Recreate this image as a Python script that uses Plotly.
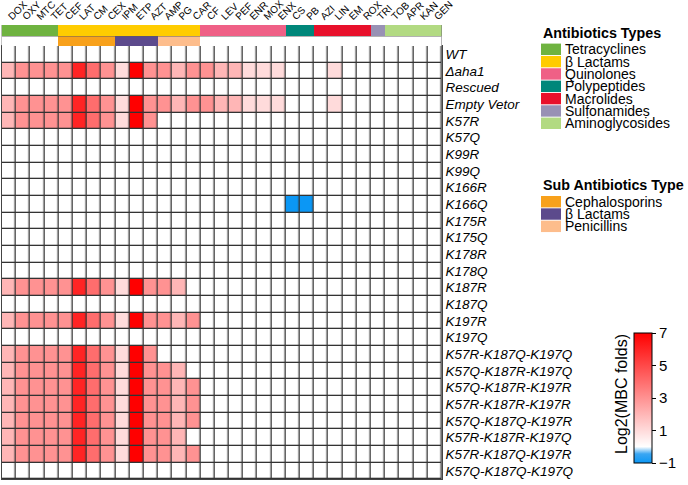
import plotly.graph_objects as go

W, H = 688, 485

antibiotics = ["DOX", "OXY", "MTC", "TET", "CEF", "LAT", "CM", "CEX", "IPM", "ETP",
               "AZT", "AMP", "PG", "CAR", "CF", "LEV", "PEF", "ENR", "MOX", "ENX",
               "CS", "PB", "AZI", "LIN", "EM", "ROX", "TRI", "TOB", "APR", "KAN", "GEN"]

antibiotic_type = ["Tetracyclines"] * 4 + ["β Lactams"] * 10 + ["Quinolones"] * 6 + \
                  ["Polypeptides"] * 2 + ["Macrolides"] * 4 + ["Sulfonamides"] * 1 + \
                  ["Aminoglycosides"] * 4

sub_type = [""] * 4 + ["Cephalosporins"] * 4 + ["β Lactams"] * 3 + ["Penicillins"] * 3 + [""] * 17

type_names = ["Tetracyclines", "β Lactams", "Quinolones", "Polypeptides",
              "Macrolides", "Sulfonamides", "Aminoglycosides"]
type_colors = ["#6FB340", "#FFCC00", "#EF6086", "#00877A", "#E8102B", "#9891B4", "#B2DA82"]

sub_names = ["Cephalosporins", "β Lactams", "Penicillins"]
sub_colors = ["#F8A11B", "#5C4A8C", "#FDBD8C"]

strains = ["WT", "Δaha1", "Rescued", "Empty Vetor", "K57R", "K57Q", "K99R", "K99Q",
           "K166R", "K166Q", "K175R", "K175Q", "K178R", "K178Q", "K187R", "K187Q",
           "K197R", "K197Q", "K57R-K187Q-K197Q", "K57Q-K187R-K197Q", "K57Q-K187R-K197R",
           "K57R-K187R-K197R", "K57Q-K187Q-K197R", "K57R-K187R-K197Q", "K57R-K187Q-K197R",
           "K57Q-K187Q-K197Q"]

#            Tetra        beta lactams                  Quinolones          Poly  Macrolides  Su Aminogly
mbc_log2 = [
    [0, 0, 0, 0, 0, 0, 0, 0, 0, 0, 0, 0, 0, 0, 0, 0, 0, 0, 0, 0, 0, 0, 0, 0, 0, 0, 0, 0, 0, 0, 0],   # WT
    [2, 3, 3, 3, 3, 6, 4, 3, 1, 7, 3, 3, 2, 3, 3, 2, 2, 1, 1, 1, 0, 0, 0, 1, 0, 0, 0, 0, 0, 0, 0],   # Δaha1
    [0, 0, 0, 0, 0, 0, 0, 0, 0, 0, 0, 0, 0, 0, 0, 0, 0, 0, 0, 0, 0, 0, 0, 0, 0, 0, 0, 0, 0, 0, 0],   # Rescued
    [2, 3, 3, 3, 3, 6, 4, 3, 1, 7, 3, 3, 2, 3, 3, 2, 2, 1, 1, 1, 0, 0, 0, 1, 0, 0, 0, 0, 0, 0, 0],   # Empty Vetor
    [2, 3, 3, 3, 3, 6, 4, 3, 1, 7, 3, 0, 0, 0, 0, 0, 0, 0, 0, 0, 0, 0, 0, 0, 0, 0, 0, 0, 0, 0, 0],   # K57R
    [0, 0, 0, 0, 0, 0, 0, 0, 0, 0, 0, 0, 0, 0, 0, 0, 0, 0, 0, 0, 0, 0, 0, 0, 0, 0, 0, 0, 0, 0, 0],   # K57Q
    [0, 0, 0, 0, 0, 0, 0, 0, 0, 0, 0, 0, 0, 0, 0, 0, 0, 0, 0, 0, 0, 0, 0, 0, 0, 0, 0, 0, 0, 0, 0],   # K99R
    [0, 0, 0, 0, 0, 0, 0, 0, 0, 0, 0, 0, 0, 0, 0, 0, 0, 0, 0, 0, 0, 0, 0, 0, 0, 0, 0, 0, 0, 0, 0],   # K99Q
    [0, 0, 0, 0, 0, 0, 0, 0, 0, 0, 0, 0, 0, 0, 0, 0, 0, 0, 0, 0, 0, 0, 0, 0, 0, 0, 0, 0, 0, 0, 0],   # K166R
    [0, 0, 0, 0, 0, 0, 0, 0, 0, 0, 0, 0, 0, 0, 0, 0, 0, 0, 0, 0, -1, -1, 0, 0, 0, 0, 0, 0, 0, 0, 0], # K166Q
    [0, 0, 0, 0, 0, 0, 0, 0, 0, 0, 0, 0, 0, 0, 0, 0, 0, 0, 0, 0, 0, 0, 0, 0, 0, 0, 0, 0, 0, 0, 0],   # K175R
    [0, 0, 0, 0, 0, 0, 0, 0, 0, 0, 0, 0, 0, 0, 0, 0, 0, 0, 0, 0, 0, 0, 0, 0, 0, 0, 0, 0, 0, 0, 0],   # K175Q
    [0, 0, 0, 0, 0, 0, 0, 0, 0, 0, 0, 0, 0, 0, 0, 0, 0, 0, 0, 0, 0, 0, 0, 0, 0, 0, 0, 0, 0, 0, 0],   # K178R
    [0, 0, 0, 0, 0, 0, 0, 0, 0, 0, 0, 0, 0, 0, 0, 0, 0, 0, 0, 0, 0, 0, 0, 0, 0, 0, 0, 0, 0, 0, 0],   # K178Q
    [2, 3, 3, 3, 3, 6, 4, 3, 1, 7, 3, 3, 2, 0, 0, 0, 0, 0, 0, 0, 0, 0, 0, 0, 0, 0, 0, 0, 0, 0, 0],   # K187R
    [0, 0, 0, 0, 0, 0, 0, 0, 0, 0, 0, 0, 0, 0, 0, 0, 0, 0, 0, 0, 0, 0, 0, 0, 0, 0, 0, 0, 0, 0, 0],   # K187Q
    [2, 3, 3, 3, 3, 6, 4, 3, 1, 7, 3, 3, 2, 3, 0, 0, 0, 0, 0, 0, 0, 0, 0, 0, 0, 0, 0, 0, 0, 0, 0],   # K197R
    [0, 0, 0, 0, 0, 0, 0, 0, 0, 0, 0, 0, 0, 0, 0, 0, 0, 0, 0, 0, 0, 0, 0, 0, 0, 0, 0, 0, 0, 0, 0],   # K197Q
    [2, 3, 3, 3, 3, 6, 4, 3, 1, 7, 3, 0, 0, 0, 0, 0, 0, 0, 0, 0, 0, 0, 0, 0, 0, 0, 0, 0, 0, 0, 0],   # K57R-K187Q-K197Q
    [2, 3, 3, 3, 3, 6, 4, 3, 1, 7, 3, 3, 2, 0, 0, 0, 0, 0, 0, 0, 0, 0, 0, 0, 0, 0, 0, 0, 0, 0, 0],   # K57Q-K187R-K197Q
    [2, 3, 3, 3, 3, 6, 4, 3, 1, 7, 3, 3, 2, 3, 0, 0, 0, 0, 0, 0, 0, 0, 0, 0, 0, 0, 0, 0, 0, 0, 0],   # K57Q-K187R-K197R
    [2, 3, 3, 3, 3, 6, 4, 3, 1, 7, 3, 3, 2, 3, 0, 0, 0, 0, 0, 0, 0, 0, 0, 0, 0, 0, 0, 0, 0, 0, 0],   # K57R-K187R-K197R
    [2, 3, 3, 3, 3, 6, 4, 3, 1, 7, 3, 3, 2, 3, 0, 0, 0, 0, 0, 0, 0, 0, 0, 0, 0, 0, 0, 0, 0, 0, 0],   # K57Q-K187Q-K197R
    [2, 3, 3, 3, 3, 6, 4, 3, 1, 7, 3, 3, 2, 0, 0, 0, 0, 0, 0, 0, 0, 0, 0, 0, 0, 0, 0, 0, 0, 0, 0],   # K57R-K187R-K197Q
    [2, 3, 3, 3, 3, 6, 4, 3, 1, 7, 3, 3, 2, 3, 0, 0, 0, 0, 0, 0, 0, 0, 0, 0, 0, 0, 0, 0, 0, 0, 0],   # K57R-K187Q-K197R
    [0, 0, 0, 0, 0, 0, 0, 0, 0, 0, 0, 0, 0, 0, 0, 0, 0, 0, 0, 0, 0, 0, 0, 0, 0, 0, 0, 0, 0, 0, 0],   # K57Q-K187Q-K197Q
]

colorbar_ticks = [-1, 1, 3, 5, 7]

FONT = "Liberation Sans, Arial, sans-serif"


def px_x(p):
    return p / W


def px_y(p):
    return 1 - p / H


def step_scale(colors):
    n = len(colors)
    scale = []
    for i, c in enumerate(colors):
        scale.append([i / n, c])
        scale.append([(i + 1) / n, c])
    return scale


ncol = len(antibiotics)
nrow = len(strains)
xs = list(range(ncol))
ys = list(range(nrow))

fig = go.Figure()

# main heatmap
fig.add_trace(go.Heatmap(
    z=mbc_log2, x=xs, y=ys, zmin=-1, zmax=7,
    colorscale=[[0, "#0B97F5"], [0.07, "#3AA6F2"], [0.125, "#FFFFFF"], [1, "#FF0000"]],
    xgap=1.3, ygap=1.3,
    colorbar=dict(
        x=px_x(634), xanchor="left", xpad=0, ypad=0,
        y=px_y(398), yanchor="middle",
        thickness=18, thicknessmode="pixels",
        len=130, lenmode="pixels",
        tickvals=colorbar_ticks, ticks="outside", ticklen=4, tickcolor="#000",
        tickfont=dict(size=15, color="#000", family=FONT),
        outlinewidth=1, outlinecolor="#000",
    ),
    hovertemplate="%{z}<extra></extra>",
))

# antibiotic type bar
type_idx = [type_names.index(t) for t in antibiotic_type]
fig.add_trace(go.Heatmap(
    z=[type_idx], x=xs, y=[0], zmin=-0.5, zmax=len(type_names) - 0.5,
    colorscale=step_scale(type_colors), showscale=False,
    xaxis="x2", yaxis="y2", hoverinfo="skip",
))

# sub type bar (index 0 = none -> white)
sub_all_colors = ["#FFFFFF"] + sub_colors
sub_idx = [0 if s == "" else sub_names.index(s) + 1 for s in sub_type]
fig.add_trace(go.Heatmap(
    z=[sub_idx], x=xs, y=[0], zmin=-0.5, zmax=len(sub_all_colors) - 0.5,
    colorscale=step_scale(sub_all_colors), showscale=False,
    xaxis="x3", yaxis="y3", hoverinfo="skip",
))

xdom = [px_x(1.7), px_x(441.7)]
common_x = dict(domain=xdom, range=[-0.5, ncol - 0.5], showgrid=False, zeroline=False,
                automargin=False)

fig.update_layout(
    width=W, height=H,
    margin=dict(l=0, r=0, t=0, b=0, autoexpand=False),
    paper_bgcolor="white",
    plot_bgcolor="#333333",
    font=dict(family=FONT, color="#000"),
    xaxis=dict(**common_x, showticklabels=False, ticks="",
               showline=True, mirror=True, linecolor="#444", linewidth=1),
    yaxis=dict(domain=[px_y(479.3), px_y(46)], range=[nrow - 0.5, -0.5],
               showgrid=False, zeroline=False, side="right", automargin=False,
               tickvals=ys, ticktext=["<i>%s</i>" % s for s in strains],
               ticks="", tickfont=dict(size=13.5, family=FONT),
               showline=True, mirror=True, linecolor="#444", linewidth=1),
    xaxis2=dict(**common_x, anchor="y2", side="top", tickvals=xs, ticktext=antibiotics,
                tickangle=-45, ticks="", tickfont=dict(size=10, family=FONT)),
    yaxis2=dict(domain=[px_y(36.3), px_y(25)], anchor="x2", range=[-0.5, 0.5], automargin=False,
                showticklabels=False, showgrid=False, zeroline=False),
    xaxis3=dict(**common_x, anchor="y3", showticklabels=False, ticks=""),
    yaxis3=dict(domain=[px_y(46), px_y(36.3)], anchor="x3", range=[-0.5, 0.5], automargin=False,
                showticklabels=False, showgrid=False, zeroline=False),
)

shapes = []
annotations = []


def add_legend(title, names, colors, title_y, first_y, step):
    annotations.append(dict(
        text="<b>%s</b>" % title, x=px_x(541), y=px_y(title_y), xref="paper", yref="paper",
        xanchor="left", yanchor="middle", showarrow=False,
        font=dict(size=14.3, family=FONT, color="#000")))
    for i, (n, c) in enumerate(zip(names, colors)):
        cy = first_y + i * step
        shapes.append(dict(type="rect", xref="paper", yref="paper",
                           x0=px_x(541), x1=px_x(561), y0=px_y(cy + 5.7), y1=px_y(cy - 5.7),
                           fillcolor=c, line=dict(width=0)))
        annotations.append(dict(
            text=n, x=px_x(563), y=px_y(cy), xref="paper", yref="paper",
            xanchor="left", yanchor="middle", showarrow=False,
            font=dict(size=14, family=FONT, color="#000")))


add_legend("Antibiotics Types", type_names, type_colors, 33, 49.3, 12.33)
add_legend("Sub Antibiotics Type", sub_names, sub_colors, 185, 201.7, 12.33)

annotations.append(dict(
    text="Log2(MBC folds)", x=px_x(621), y=px_y(394), xref="paper", yref="paper",
    xanchor="center", yanchor="middle", showarrow=False, textangle=-90,
    font=dict(size=16, family=FONT, color="#000")))

fig.update_layout(shapes=shapes, annotations=annotations)

fig.write_html("out.html", config={"displayModeBar": False},
               post_script="document.body.style.margin='0';document.body.style.overflow='hidden';")
